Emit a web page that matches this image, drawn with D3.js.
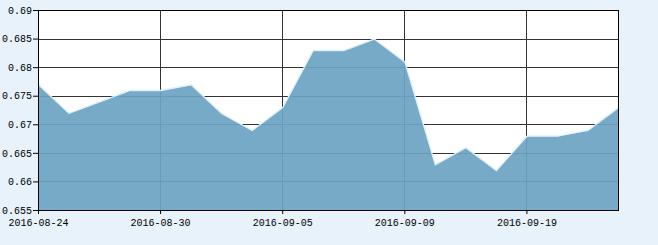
<!DOCTYPE html>
<html>
<head>
<meta charset="utf-8">
<script src="https://cdn.jsdelivr.net/npm/d3@7"></script>
<style>
  html, body { margin: 0; padding: 0; background: #e7f2fa; }
  #chart text { font-family: "Liberation Mono", monospace; font-size: 10px; fill: #000; }
</style>
</head>
<body>
<div id="chart"></div>
<script>
// trading days shown on the x axis
var dates = ["2016-08-24", "2016-08-25", "2016-08-26", "2016-08-29", "2016-08-30",
  "2016-08-31", "2016-09-01", "2016-09-02", "2016-09-05", "2016-09-06",
  "2016-09-07", "2016-09-08", "2016-09-09", "2016-09-12", "2016-09-13",
  "2016-09-14", "2016-09-19", "2016-09-20", "2016-09-21", "2016-09-22"];
var values = [0.677, 0.672, 0.674, 0.676, 0.676, 0.677, 0.672, 0.669, 0.673, 0.683,
  0.683, 0.685, 0.681, 0.663, 0.666, 0.662, 0.668, 0.668, 0.669, 0.673];
var xTicks = ["2016-08-24", "2016-08-30", "2016-09-05", "2016-09-09", "2016-09-19"];
var yTicks = [0.655, 0.66, 0.665, 0.67, 0.675, 0.68, 0.685, 0.69];

var data = dates.map(function (d, i) {
  return { date: d, value: values[i] };
});

var margin = { top: 10, left: 38 };
var w = 580, h = 200;

var x = d3.scalePoint().domain(dates).range([0, w]);
var y = d3.scaleLinear().domain([0.655, 0.69]).range([h, 0]);

var svg = d3
  .select("#chart")
  .append("svg")
  .attr("width", 658)
  .attr("height", 245)
  .append("g")
  .attr("transform", "translate(" + margin.left + "," + margin.top + ")");

svg.append("rect")
  .attr("x", 0.5).attr("y", 0.5)
  .attr("width", w).attr("height", h)
  .attr("fill", "#fff");

// grid lines
svg.append("g")
  .selectAll("line")
  .data(yTicks)
  .enter()
  .append("line")
  .attr("x1", 0).attr("x2", w)
  .attr("y1", function (d) { return Math.round(y(d)) + 0.5; })
  .attr("y2", function (d) { return Math.round(y(d)) + 0.5; })
  .attr("stroke", "#333");

svg.append("g")
  .selectAll("line")
  .data(xTicks)
  .enter()
  .append("line")
  .attr("y1", 0).attr("y2", h)
  .attr("x1", function (d) { return Math.round(x(d)) + 0.5; })
  .attr("x2", function (d) { return Math.round(x(d)) + 0.5; })
  .attr("stroke", "#333");

// the area
var area = d3.area()
  .x(function (d) { return x(d.date) + 0.5; })
  .y0(h + 0.5)
  .y1(function (d) { return y(d.value) + 0.5; });

svg.append("path")
  .datum(data)
  .attr("d", area)
  .attr("fill", "rgb(108,164,195)")
  .attr("fill-opacity", 0.93);

var line = d3.line()
  .x(function (d) { return x(d.date) + 0.5; })
  .y(function (d) { return y(d.value) + 0.5; });

svg.append("path")
  .datum(data)
  .attr("d", line)
  .attr("fill", "none")
  .attr("stroke", "#dff0fb")
  .attr("stroke-width", 1.3);

// frame
svg.append("rect")
  .attr("x", 0.5).attr("y", 0.5)
  .attr("width", w).attr("height", h)
  .attr("fill", "none")
  .attr("stroke", "#000");

// axes
svg.append("g")
  .call(d3.axisLeft(y).tickValues(yTicks).tickSize(5).tickSizeOuter(0).tickPadding(1)
    .tickFormat(function (d) { return d3.format("")(+d.toFixed(3)); }));

svg.append("g")
  .attr("transform", "translate(0," + h + ")")
  .call(d3.axisBottom(x).tickValues(xTicks).tickSize(4).tickSizeOuter(0).tickPadding(5));

svg.selectAll(".domain").attr("stroke", "#000");
svg.selectAll(".tick line").attr("stroke", "#000");
svg.selectAll(".tick text").attr("fill", "#000").style("font-family", "Liberation Mono").style("font-size", "10px");
</script>
</body>
</html>
